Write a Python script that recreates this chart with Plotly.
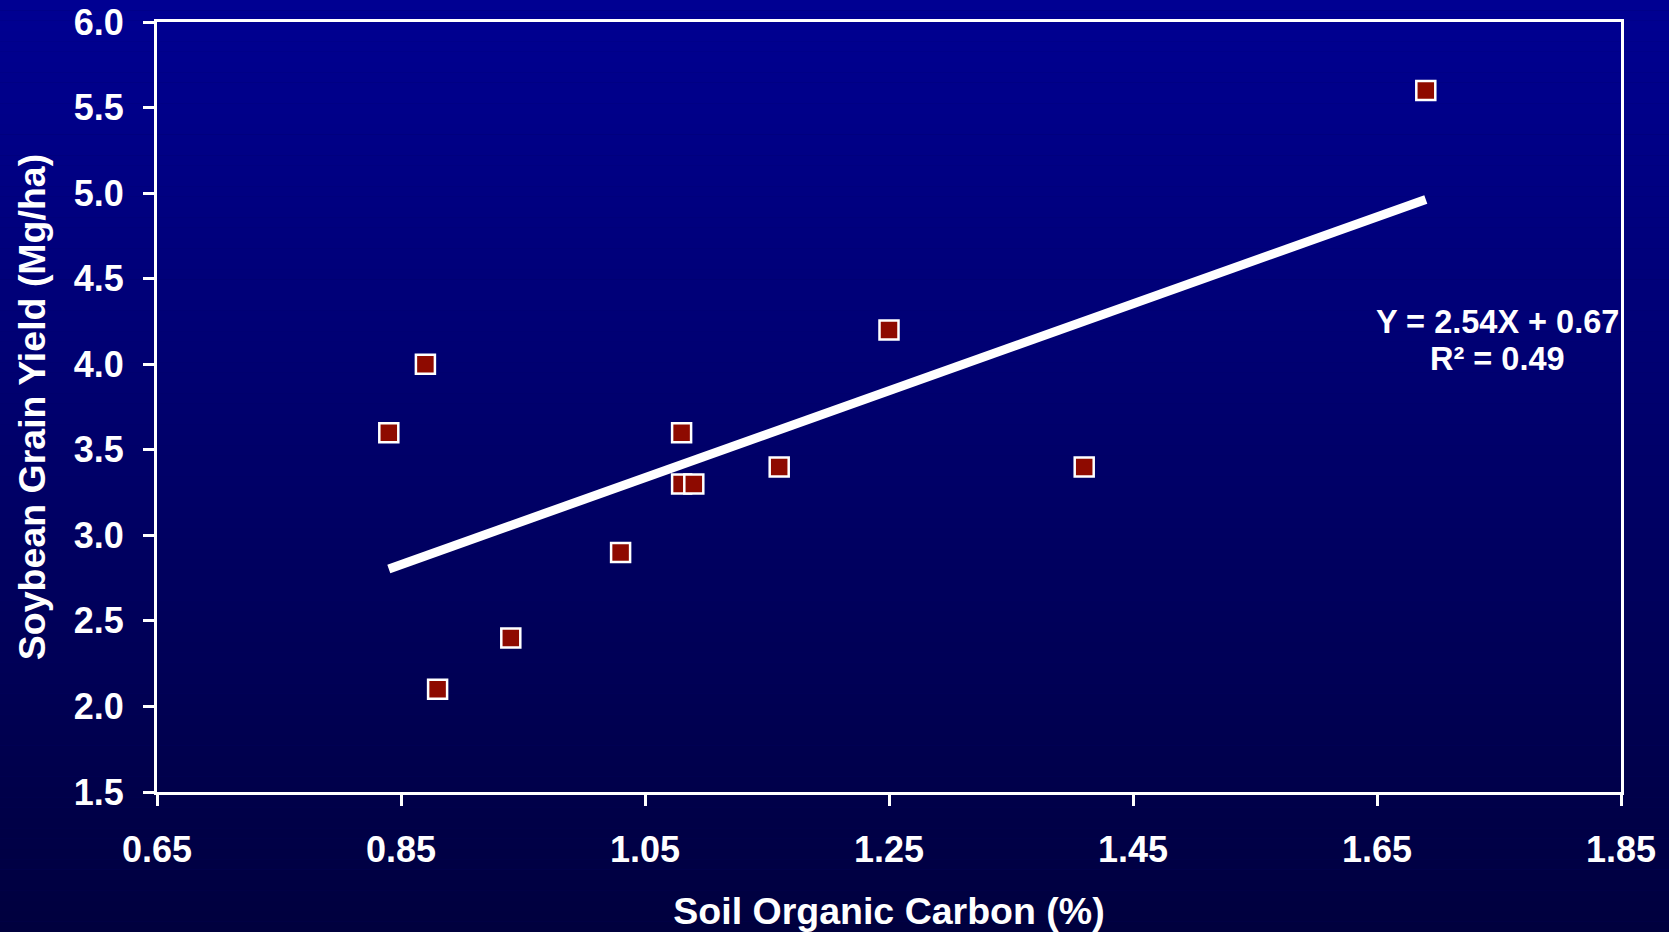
import plotly.graph_objects as go

# ---- data ----
soc = [0.84, 0.87, 0.88, 0.94, 1.03, 1.08, 1.08, 1.09, 1.16, 1.25, 1.41, 1.69]
grain_yield = [3.6, 4.0, 2.1, 2.4, 2.9, 3.6, 3.3, 3.3, 3.4, 4.2, 3.4, 5.6]
slope = 2.54
intercept = 0.67
r_squared = 0.49
x_ticks = [0.65, 0.85, 1.05, 1.25, 1.45, 1.65, 1.85]
y_ticks = [1.5, 2.0, 2.5, 3.0, 3.5, 4.0, 4.5, 5.0, 5.5, 6.0]

trend_x = [min(soc), max(soc)]
trend_y = [slope * v + intercept for v in trend_x]

W, H = 1669, 932
ML, MR, MT, MB = 157, 48, 22, 140
PW, PH = W - ML - MR, H - MT - MB

FONT = "Liberation Sans, Arial, sans-serif"

fig = go.Figure()

fig.add_trace(go.Scatter(
    x=trend_x, y=trend_y, mode="lines",
    line=dict(color="white", width=9),
    hoverinfo="skip", showlegend=False,
))
fig.add_trace(go.Scatter(
    x=soc, y=grain_yield, mode="markers",
    marker=dict(symbol="square", size=19, color="#8E0A00",
                line=dict(color="white", width=2.5)),
    showlegend=False,
))

# vertical gradient background
top = (0, 0, 146)
bot = (0, 0, 62)
N = 90
y_lo = -MB / PH
y_hi = 1 + MT / PH
x_lo = -ML / PW
x_hi = 1 + MR / PW
shapes = []
for i in range(N):
    t = i / (N - 1)
    c = tuple(round(bot[k] + (top[k] - bot[k]) * t) for k in range(3))
    y0 = y_lo + (y_hi - y_lo) * i / N
    y1 = y_lo + (y_hi - y_lo) * (i + 1.02) / N
    shapes.append(dict(type="rect", xref="paper", yref="paper",
                       x0=x_lo, x1=x_hi, y0=y0, y1=y1,
                       fillcolor="rgb(%d,%d,%d)" % c, line=dict(width=0),
                       layer="below"))

fig.add_annotation(x=1.749, y=4.248, xref="x", yref="y",
                   text="<b>Y = %.2fX + %.2f</b>" % (slope, intercept),
                   showarrow=False, font=dict(family=FONT, size=32.5, color="white"))
fig.add_annotation(x=1.749, y=4.028, xref="x", yref="y",
                   text="<b>R² = %.2f</b>" % r_squared,
                   showarrow=False, font=dict(family=FONT, size=32.5, color="white"))

axis_common = dict(
    showgrid=False, zeroline=False, showline=True, linecolor="white",
    linewidth=3, mirror=True, ticks="outside", tickcolor="white",
    tickwidth=3, ticklen=11, automargin=False,
    tickfont=dict(family=FONT, size=36, color="white"),
)

fig.update_layout(
    width=W, height=H,
    margin=dict(l=ML, r=MR, t=MT, b=MB, pad=0),
    paper_bgcolor="rgb(0,0,100)",
    plot_bgcolor="rgba(0,0,0,0)",
    shapes=shapes,
    xaxis=dict(range=[0.65, 1.85], tickvals=x_ticks,
               ticktext=["<b>%.2f</b>" % v for v in x_ticks],
               title=dict(text="<b>Soil Organic Carbon (%)</b>",
                          font=dict(family=FONT, size=37.5, color="white"),
                          standoff=33),
               ticklabelstandoff=13,
               **axis_common),
    yaxis=dict(range=[1.5, 6.0], tickvals=y_ticks,
               ticktext=["<b>%.1f</b>" % v for v in y_ticks],
               title=dict(text="<b>Soybean Grain Yield (Mg/ha)</b>",
                          font=dict(family=FONT, size=37.5, color="white"),
                          standoff=17),
               ticklabelstandoff=12,
               **axis_common),
)

fig.write_html(
    "out.html",
    config={"displayModeBar": False},
    post_script="document.body.style.margin='0';"
                "document.body.style.overflow='hidden';"
                "document.body.style.background='rgb(0,0,146)';",
)
